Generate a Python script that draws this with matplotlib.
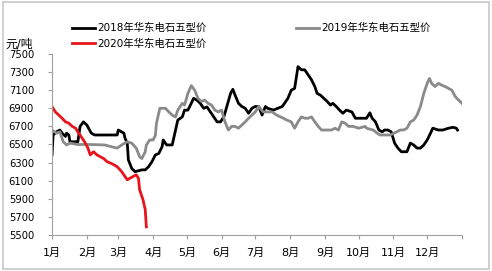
import matplotlib.pyplot as plt
from matplotlib.patches import Rectangle

plt.rcParams['font.family'] = ['DejaVu Sans', 'Noto Sans CJK SC']

# day of year, price (yuan/ton)
d2018 = [0, 1, 4, 7, 9, 12, 13, 15, 16, 23, 25, 28, 31, 35, 38, 58, 59, 64, 65, 67, 68,
         71, 74, 80, 83, 86, 89, 92, 95, 98, 99, 102, 107, 110, 112, 116, 118, 121, 124,
         126, 129, 132, 135, 138, 141, 144, 147, 150, 153, 156, 159, 161, 163, 166, 169,
         172, 175, 178, 181, 184, 187, 190, 192, 197, 205, 207, 210, 213, 216, 219, 222,
         225, 228, 231, 234, 236, 239, 242, 245, 248, 250, 253, 256, 259, 262, 267, 270,
         279, 280, 283, 285, 288, 291, 294, 296, 299, 302, 305, 308, 311, 316, 319, 322,
         325, 328, 331, 334, 337, 339, 344, 348, 353, 357, 360, 361]
p2018 = [6385, 6605, 6640, 6660, 6625, 6590, 6625, 6605, 6530, 6530, 6700, 6750, 6715,
         6625, 6605, 6605, 6660, 6625, 6570, 6515, 6330, 6235, 6200, 6220, 6220, 6255,
         6310, 6385, 6400, 6475, 6550, 6495, 6495, 6660, 6770, 6805, 6880, 6880, 6955,
         7010, 6990, 6955, 6900, 6915, 6860, 6805, 6750, 6750, 6805, 6935, 7065, 7110,
         7045, 6955, 6920, 6900, 6845, 6900, 6920, 6920, 6825, 6920, 6900, 6880, 6920,
         6955, 7010, 7100, 7120, 7360, 7325, 7325, 7270, 7215, 7140, 7065, 7045, 7010,
         6975, 6935, 6955, 6920, 6880, 6845, 6880, 6860, 6790, 6790, 6790, 6850, 6790,
         6750, 6660, 6640, 6660, 6660, 6640, 6515, 6460, 6420, 6420, 6515, 6495, 6460,
         6460, 6495, 6550, 6625, 6680, 6660, 6660, 6680, 6690, 6680, 6660]

d2019 = [0, 4, 7, 10, 13, 16, 23, 34, 47, 53, 58, 62, 67, 71, 75, 78, 80, 83, 84, 87,
         90, 92, 93, 96, 101, 104, 107, 110, 112, 116, 118, 121, 124, 127, 130, 133, 136,
         139, 142, 145, 148, 151, 154, 157, 160, 163, 166, 169, 172, 175, 178, 181, 184,
         188, 196, 200, 206, 209, 213, 216, 219, 222, 225, 228, 231, 234, 237, 240, 245,
         249, 252, 255, 258, 261, 264, 268, 273, 279, 280, 286, 289, 292, 301, 307, 310,
         313, 316, 319, 322, 325, 328, 331, 334, 336, 338, 341, 344, 347, 350, 353, 356,
         359, 362, 365]
p2019 = [6660, 6625, 6640, 6530, 6495, 6515, 6500, 6500, 6495, 6475, 6460, 6495, 6530,
         6515, 6460, 6365, 6345, 6420, 6495, 6550, 6550, 6600, 6735, 6900, 6900, 6860,
         6825, 6805, 6880, 6955, 6935, 7065, 7150, 7100, 7010, 6975, 6990, 6955, 6935,
         6880, 6860, 6880, 6750, 6660, 6700, 6700, 6680, 6715, 6750, 6790, 6825, 6860,
         6920, 6860, 6860, 6825, 6790, 6770, 6750, 6680, 6750, 6805, 6790, 6790, 6805,
         6750, 6700, 6660, 6660, 6660, 6680, 6660, 6750, 6735, 6700, 6700, 6680, 6700,
         6680, 6660, 6630, 6605, 6605, 6640, 6660, 6660, 6680, 6750, 6770, 6825, 6920,
         7065, 7175, 7230, 7175, 7140, 7175, 7155, 7140, 7120, 7100, 7030, 6990, 6955]

d2020 = [0, 3, 6, 9, 12, 15, 18, 21, 23, 26, 29, 32, 34, 37, 40, 43, 46, 49, 53, 58,
         62, 67, 69, 72, 75, 77, 78, 81, 83, 84]
p2020 = [6920, 6860, 6825, 6790, 6750, 6735, 6700, 6680, 6640, 6585, 6530, 6460, 6385,
         6420, 6385, 6365, 6345, 6310, 6290, 6255, 6200, 6110, 6125, 6145, 6165, 6125,
         6000, 5890, 5780, 5590]

month_starts = [0, 31, 59, 90, 120, 151, 181, 212, 243, 273, 304, 334, 365]
month_labels = ['1月', '2月', '3月', '4月', '5月', '6月', '7月', '8月', '9月',
                '10月', '11月', '12月', '']
y_ticks = [5500, 5700, 5900, 6100, 6300, 6500, 6700, 6900, 7100, 7300, 7500]

fig = plt.figure(figsize=(4.92, 2.71), dpi=100)
fig.patches.append(Rectangle((0.006, 0.008), 0.988, 0.984, transform=fig.transFigure,
                             fill=False, edgecolor='#c8c8c8', linewidth=1.2))
ax = fig.add_axes([0.1057, 0.1328, 0.8333, 0.668])

l18, = ax.plot(d2018, p2018, color='black', lw=2.0, label='2018年华东电石五型价')
l19, = ax.plot(d2019, p2019, color='#8a8a8a', lw=2.0, label='2019年华东电石五型价')
l20, = ax.plot(d2020, p2020, color='#e8141b', lw=2.0, label='2020年华东电石五型价')

ax.set_xlim(0, 365)
ax.set_ylim(5500, 7500)
ax.set_xticks(month_starts)
ax.set_xticklabels(month_labels, fontsize=8)
ax.set_yticks(y_ticks)
ax.tick_params(axis='y', labelsize=7.2, length=3, color='#a0a0a0', pad=10)
ax.tick_params(axis='x', length=3, color='#a0a0a0', pad=6)
for s in ['top', 'right']:
    ax.spines[s].set_visible(False)
for s in ['left', 'bottom']:
    ax.spines[s].set_color('#a0a0a0')

ax.legend(handles=[l18, l20, l19], ncol=2, frameon=False, fontsize=7.5,
          loc='upper left', bbox_to_anchor=(72 / 492, 1 - 23 / 271),
          bbox_transform=fig.transFigure, borderpad=0, borderaxespad=0,
          handlelength=2.2, handletextpad=0.2, columnspacing=8.6, labelspacing=0.5)
fig.text(5 / 492, 1 - 44 / 271, '元/吨', fontsize=8.5, va='center', ha='left')

fig.savefig('out.png', dpi=100)
